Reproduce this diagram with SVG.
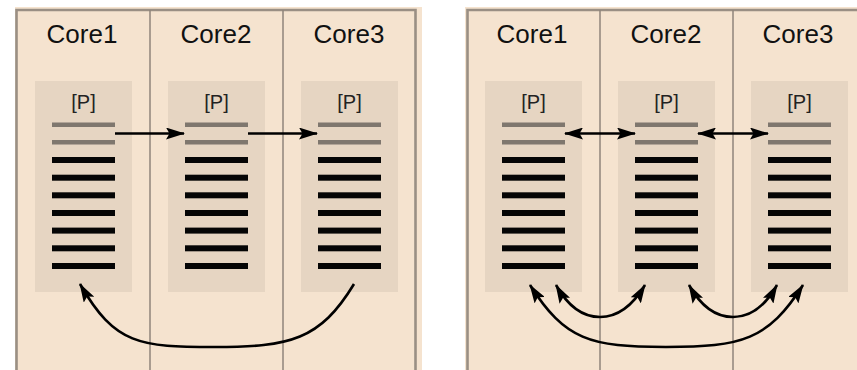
<svg xmlns="http://www.w3.org/2000/svg" width="857" height="370" viewBox="0 0 857 370">
  <style>
    .panel { fill: #F5E3CF; }
    .frame { fill: none; stroke: #9A8F84; stroke-width: 2.6; }
    .divider { stroke: #8F857B; stroke-width: 1.5; }
    .box { fill: #E6D5C2; }
    .title { font-family: "Liberation Sans", Arial, sans-serif; font-size: 26px; fill: #111; text-anchor: middle; }
    .tag { font-family: "Liberation Sans", Arial, sans-serif; font-size: 20px; fill: #222; text-anchor: middle; }
    .done { fill: #7F776E; }
    .todo { fill: #050505; }
    .link { fill: none; stroke: #000; stroke-width: 2.6; }
  </style>
  <defs>
    <marker id="head" markerUnits="userSpaceOnUse" markerWidth="19" markerHeight="12" refX="18" refY="6" orient="auto-start-reverse" viewBox="0 0 19 12">
      <path d="M0,0 L19,6 L0,12 L3.5,6 z" fill="#000"/>
    </marker>
    <!-- one processor stack: two finished (grey) items then seven pending (black) items -->
    <g id="stack">
      <rect class="box" x="0" y="0" width="97" height="211"/>
      <text class="tag" x="48.5" y="28">[P]</text>
      <rect class="done" x="17" y="41.5" width="63" height="4.5"/>
      <rect class="done" x="17" y="59" width="63" height="4.5"/>
      <rect class="todo" x="17" y="76" width="63" height="6"/>
      <rect class="todo" x="17" y="93.7" width="63" height="6"/>
      <rect class="todo" x="17" y="111.3" width="63" height="6"/>
      <rect class="todo" x="17" y="129" width="63" height="6"/>
      <rect class="todo" x="17" y="146.6" width="63" height="6"/>
      <rect class="todo" x="17" y="164.3" width="63" height="6"/>
      <rect class="todo" x="17" y="182" width="63" height="6"/>
    </g>
  </defs>

  <rect width="857" height="370" fill="#FFFFFF"/>

  <!-- left panel: one-way ring -->
  <g id="left-panel">
    <rect class="panel" x="15" y="7" width="407" height="363"/>
    <path class="frame" d="M16.5,370 V10 H415.5 V370"/>
    <line class="divider" x1="150" y1="10" x2="150" y2="370"/>
    <line class="divider" x1="283" y1="10" x2="283" y2="370"/>
  </g>
  <g id="l-core1">
    <text class="title" x="82" y="43">Core1</text>
    <use href="#stack" x="35" y="81"/>
  </g>
  <g id="l-core2">
    <text class="title" x="216" y="43">Core2</text>
    <use href="#stack" x="168" y="81"/>
  </g>
  <g id="l-core3">
    <text class="title" x="349" y="43">Core3</text>
    <use href="#stack" x="301" y="81"/>
  </g>

  <!-- right panel: two-way ring -->
  <g id="right-panel">
    <rect class="panel" x="465" y="7" width="392" height="363"/>
    <path class="frame" d="M467.5,370 V10 H857"/>
    <line class="divider" x1="600" y1="10" x2="600" y2="370"/>
    <line class="divider" x1="733" y1="10" x2="733" y2="370"/>
  </g>
  <g id="r-core1">
    <text class="title" x="532" y="43">Core1</text>
    <use href="#stack" x="485" y="81"/>
  </g>
  <g id="r-core2">
    <text class="title" x="666" y="43">Core2</text>
    <use href="#stack" x="618" y="81"/>
  </g>
  <g id="r-core3">
    <text class="title" x="798" y="43">Core3</text>
    <use href="#stack" x="751" y="81"/>
  </g>

  <g id="connectors">
    <!-- left: forward hand-off -->
    <path class="link" d="M115,133.5 H184" marker-end="url(#head)"/>
    <path class="link" d="M248,133.5 H317" marker-end="url(#head)"/>
    <path class="link" d="M354,284 C320,340 290,347 215,347 C140,347 115,345 80,284" marker-end="url(#head)"/>

    <!-- right: exchange in both directions -->
    <path class="link" d="M565,133.5 H635" marker-start="url(#head)" marker-end="url(#head)"/>
    <path class="link" d="M698,133.5 H768" marker-start="url(#head)" marker-end="url(#head)"/>
    <path class="link" d="M556,285 C570,310 585,317 600,317 C615,317 630,310 645,285" marker-start="url(#head)" marker-end="url(#head)"/>
    <path class="link" d="M689,285 C703,310 718,317 733,317 C748,317 763,310 777,285" marker-start="url(#head)" marker-end="url(#head)"/>
    <path class="link" d="M530,285 C565,340 590,347 666,347 C742,347 768,340 803,285" marker-start="url(#head)" marker-end="url(#head)"/>
  </g>
</svg>
